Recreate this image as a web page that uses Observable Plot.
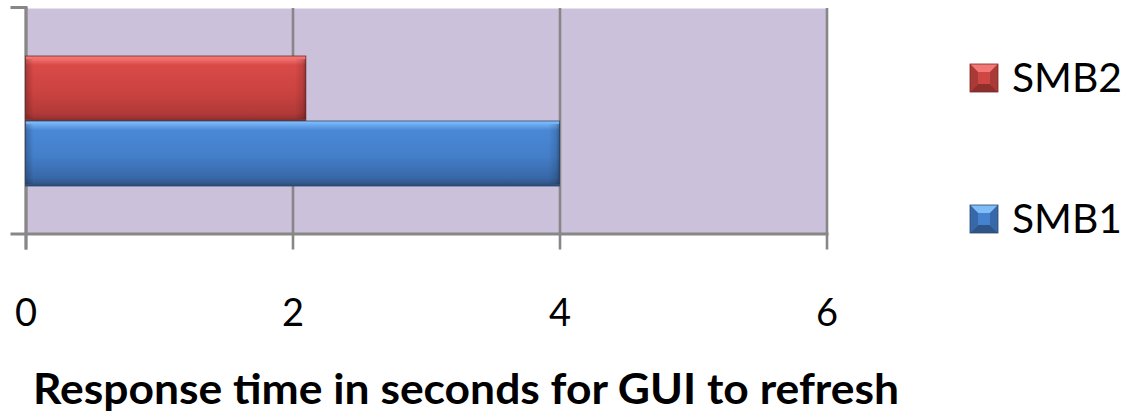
<!DOCTYPE html>
<html>
<head>
<meta charset="utf-8">
<script src="https://cdn.jsdelivr.net/npm/d3@7"></script>
<script src="https://cdn.jsdelivr.net/npm/@observablehq/plot@0.6"></script>
<style>
  html, body { margin: 0; padding: 0; background: #ffffff; }
  #wrap { position: relative; width: 1126px; height: 413px; overflow: hidden; background: #fff; }
  #overlay { position: absolute; left: 0; top: 0; pointer-events: none; }
</style>
</head>
<body>
<svg width="0" height="0" style="position:absolute">
  <defs>
    <linearGradient id="gRed" x1="0" y1="0" x2="0" y2="1">
      <stop offset="0" stop-color="#f47a78"/>
      <stop offset="0.06" stop-color="#ee6a68"/>
      <stop offset="0.14" stop-color="#d84a48"/>
      <stop offset="0.55" stop-color="#cb4341"/>
      <stop offset="0.88" stop-color="#b23a38"/>
      <stop offset="0.95" stop-color="#9a3432"/>
      <stop offset="1" stop-color="#822b29"/>
    </linearGradient>
    <linearGradient id="gBlue" x1="0" y1="0" x2="0" y2="1">
      <stop offset="0" stop-color="#86c4fb"/>
      <stop offset="0.06" stop-color="#6aa9ee"/>
      <stop offset="0.14" stop-color="#4a88d6"/>
      <stop offset="0.55" stop-color="#437ec8"/>
      <stop offset="0.88" stop-color="#3867a6"/>
      <stop offset="0.95" stop-color="#33598c"/>
      <stop offset="1" stop-color="#2b4a74"/>
    </linearGradient>
    <linearGradient id="gEdgeR" x1="0" y1="0" x2="1" y2="0">
      <stop offset="0" stop-color="#000" stop-opacity="0"/>
      <stop offset="0.7" stop-color="#000" stop-opacity="0.12"/>
      <stop offset="1" stop-color="#000" stop-opacity="0.32"/>
    </linearGradient>
    <linearGradient id="gEdgeL" x1="0" y1="0" x2="1" y2="0">
      <stop offset="0" stop-color="#000" stop-opacity="0.22"/>
      <stop offset="1" stop-color="#000" stop-opacity="0"/>
    </linearGradient>
  </defs>
</svg>
<div id="wrap"></div>
<script>
// ---- data ----
const series = ["SMB2", "SMB1"];
const values = [2.1, 4.0];
const xTicks = [0, 2, 4, 6];
const legendOrder = ["SMB2", "SMB1"];
const titleText = "Response time in seconds for GUI to refresh";

const data = series.map((s, i) => ({series: s, value: values[i]}));
const fills = {SMB2: "url(#gRed)", SMB1: "url(#gBlue)"};
const strokes = {SMB2: "#7a2624", SMB1: "#2a4770"};
const bevel = {
  SMB2: {face: "#cf4643", top: "#f27876", bottom: "#8e2f2d", side: "#a83a38", edge: "#7a2624"},
  SMB1: {face: "#4482cf", top: "#80bdf6", bottom: "#2f5588", side: "#3868a8", edge: "#2a4770"}
};

const W = 1126, H = 413;
const mL = 25.5, mR = 299.5, mT = 8, mB = 179.5;
const gray = "#878787";

const barMarks = series.map(s => Plot.barX(data.filter(d => d.series === s), {
  x: "value", y: "series", fill: fills[s], stroke: strokes[s], strokeWidth: 0.8
}));

const chart = Plot.plot({
  width: W,
  height: H,
  marginLeft: mL,
  marginRight: mR,
  marginTop: mT,
  marginBottom: mB,
  style: {fontFamily: "Lato", color: "#000", background: "transparent", overflow: "visible"},
  x: {domain: [0, 6], ticks: xTicks},
  y: {type: "band", domain: series, paddingInner: 0, paddingOuter: 0.72, axis: null},
  marks: [
    Plot.frame({fill: "#ccc1da", stroke: null}),
    Plot.ruleX(xTicks, {stroke: gray, strokeWidth: 2.6, insetBottom: -16}),
    Plot.ruleX([0], {stroke: gray, strokeWidth: 3, insetBottom: -16, insetTop: -1}),
    Plot.frame({anchor: "bottom", stroke: gray, strokeWidth: 3, insetLeft: -14}),
    Plot.frame({anchor: "top", stroke: gray, strokeWidth: 3, insetLeft: -14, insetRight: W - mL - mR, insetTop: -1}),
    ...barMarks,
    // bevel shading at bar ends
    Plot.barX(data, {x1: "value", x2: "value", y: "series", insetLeft: -11, insetTop: 3, insetBottom: 2, fill: "url(#gEdgeR)"}),
    Plot.barX(data, {x1: () => 0, x2: () => 0, y: "series", insetRight: -8, insetTop: 3, insetBottom: 2, fill: "url(#gEdgeL)"}),
    Plot.axisX({ticks: xTicks, tickSize: 0, tickPadding: 65.5, fontSize: 38, tickFormat: d => String(d), label: null})
  ]
});
document.getElementById("wrap").appendChild(chart);

// ---- title & legend overlay ----
const ov = d3.select("#wrap").append("svg")
  .attr("id", "overlay").attr("width", W).attr("height", H);

ov.append("text")
  .attr("x", 33).attr("y", 404)
  .attr("font-family", "Lato").attr("font-weight", "bold").attr("font-size", 42)
  .attr("fill", "#000")
  .attr("textLength", 866).attr("lengthAdjust", "spacingAndGlyphs")
  .text(titleText);

const legendY = {SMB2: 92, SMB1: 233};
const S = 28, b = 8;
const lg = ov.selectAll("g.leg").data(legendOrder).join("g").attr("class", "leg")
  .attr("transform", d => `translate(970,${legendY[d] - S})`);
lg.append("rect").attr("width", S).attr("height", S).attr("fill", d => bevel[d].face);
lg.append("polygon").attr("points", `0,0 ${S},0 ${S - b},${b} ${b},${b}`).attr("fill", d => bevel[d].top);
lg.append("polygon").attr("points", `0,${S} ${S},${S} ${S - b},${S - b} ${b},${S - b}`).attr("fill", d => bevel[d].bottom);
lg.append("polygon").attr("points", `0,0 ${b},${b} ${b},${S - b} 0,${S}`).attr("fill", d => bevel[d].side);
lg.append("polygon").attr("points", `${S},0 ${S - b},${b} ${S - b},${S - b} ${S},${S}`).attr("fill", d => bevel[d].side);
lg.append("rect").attr("width", S).attr("height", S).attr("fill", "none")
  .attr("stroke", d => bevel[d].edge).attr("stroke-width", 0.8);
lg.append("text")
  .attr("x", 42).attr("y", S)
  .attr("font-family", "Lato").attr("font-size", 40).attr("fill", "#000")
  .attr("textLength", 110).attr("lengthAdjust", "spacingAndGlyphs")
  .text(d => d);
</script>
</body>
</html>
